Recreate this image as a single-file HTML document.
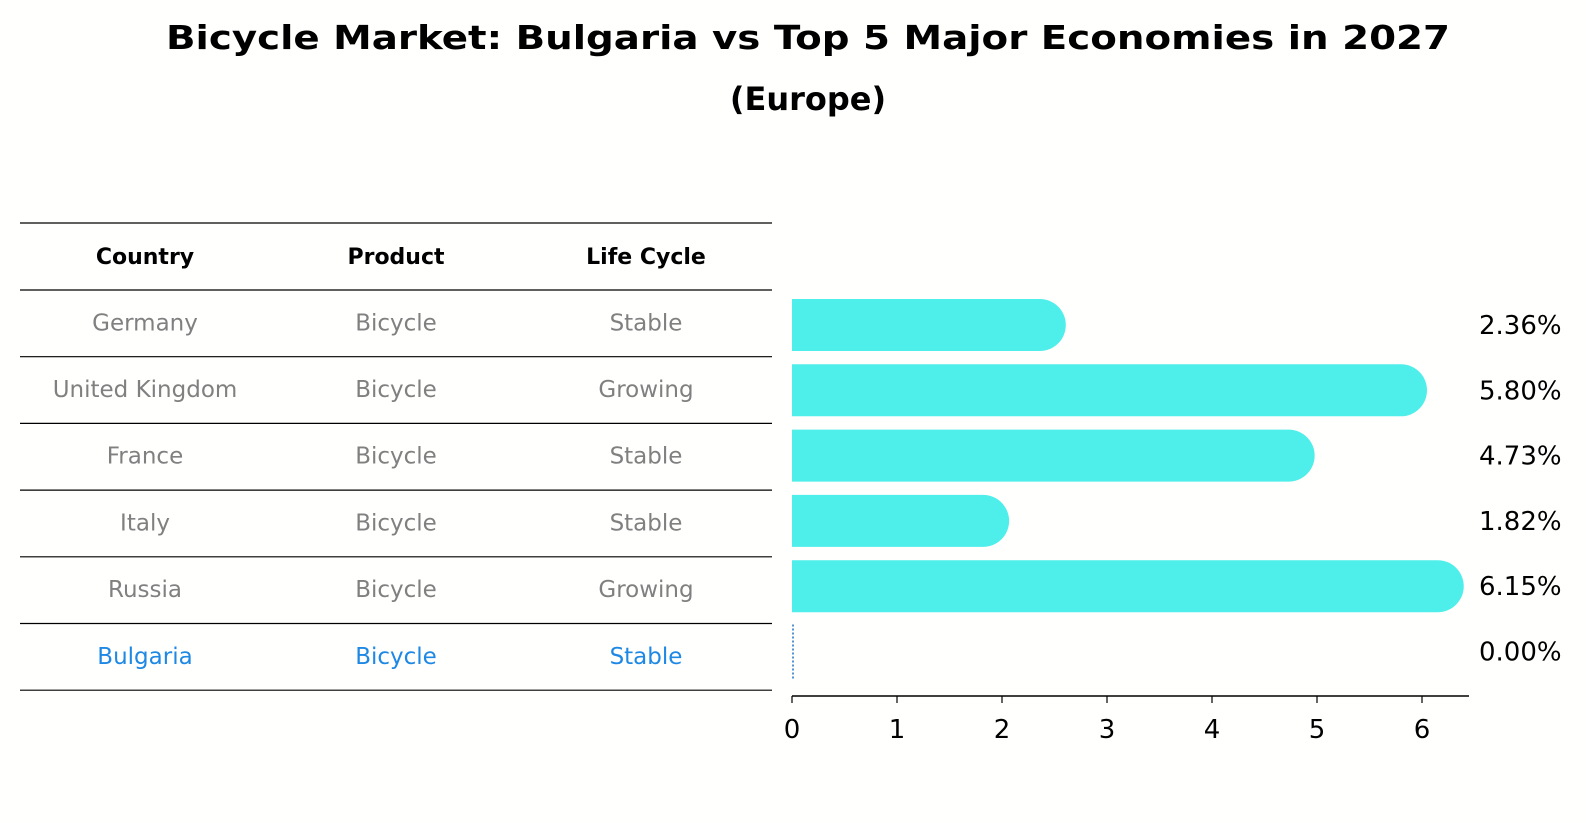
<!DOCTYPE html>
<html><head><meta charset="utf-8"><style>
html,body{margin:0;padding:0;background:#fff;}
svg{display:block;font-family:"DejaVu Sans","Liberation Sans",sans-serif;}
</style></head><body>
<svg id="chart" width="1586" height="823" viewBox="0 0 1586 823">
<rect width="1586" height="823" fill="#fffffe"/>
<text x="808" y="49" text-anchor="middle" font-size="33" font-weight="bold" textLength="1284" lengthAdjust="spacingAndGlyphs">Bicycle Market: Bulgaria vs Top 5 Major Economies in 2027</text>
<text x="808" y="110" text-anchor="middle" font-size="32" font-weight="bold">(Europe)</text>
<g id="table"></g>
<g id="bars"></g>
</svg>
<script>
const countries=["Germany","United Kingdom","France","Italy","Russia","Bulgaria"];
const products=["Bicycle","Bicycle","Bicycle","Bicycle","Bicycle","Bicycle"];
const lifecycles=["Stable","Growing","Stable","Stable","Growing","Stable"];
const values=[2.36,5.80,4.73,1.82,6.15,0.00];
const ticks=[0,1,2,3,4,5,6];
const NS="http://www.w3.org/2000/svg";
function mk(t,a,p){const e=document.createElementNS(NS,t);for(const k in a)e.setAttribute(k,a[k]);p.appendChild(e);return e;}
const x0=792,ppu=105;
const xs=v=>x0+v*ppu;
const rowY=i=>325+i*65.3;
const tb=document.getElementById('table');
const lineYs=[223,290];for(let i=1;i<=6;i++)lineYs.push(290+i*66.7);
lineYs.forEach((y,i)=>{const l=mk('line',{x1:20,x2:772,y1:y,y2:y,stroke:'#000','stroke-width':1.2},tb);

});
const cx=[145,396,646];
["Country","Product","Life Cycle"].forEach((h,j)=>{const t=mk('text',{x:cx[j],y:264,'text-anchor':'middle','font-size':22,'font-weight':'bold'},tb);t.textContent=h;

});
countries.forEach((c,i)=>{const y=290+i*66.7+33.3+7;const col=i===5?'#1e88e5':'#808080';
[c,products[i],lifecycles[i]].forEach((s,j)=>{const t=mk('text',{x:cx[j],y:y,'text-anchor':'middle','font-size':23,fill:col},tb);t.textContent=s;

});});
const bg=document.getElementById('bars');
values.forEach((v,i)=>{const cy=rowY(i);
if(v>0){const w=xs(v)-x0;const p=mk('path',{d:`M${x0},${cy-26}H${x0+w}A26,26 0 0 1 ${x0+w},${cy+26}H${x0}Z`,fill:'#4eeeea'},bg);

}
else{const l=mk('line',{x1:x0+1,x2:x0+1,y1:cy-27,y2:cy+27,stroke:'#1e6fbf','stroke-width':1.5,'stroke-dasharray':'2,2'},bg);

}
const t=mk('text',{x:1479,y:cy+9,'font-size':26},bg);t.textContent=v.toFixed(2)+'%';

});
const ax=mk('line',{x1:x0,x2:1469,y1:696,y2:696,stroke:'#000','stroke-width':1.5},bg);


ticks.forEach(v=>{const tl=mk('line',{x1:xs(v),x2:xs(v),y1:696,y2:703,stroke:'#000','stroke-width':1.2},bg);


const t=mk('text',{x:xs(v),y:738,'text-anchor':'middle','font-size':26},bg);t.textContent=v;

});
</script>
</body></html>
